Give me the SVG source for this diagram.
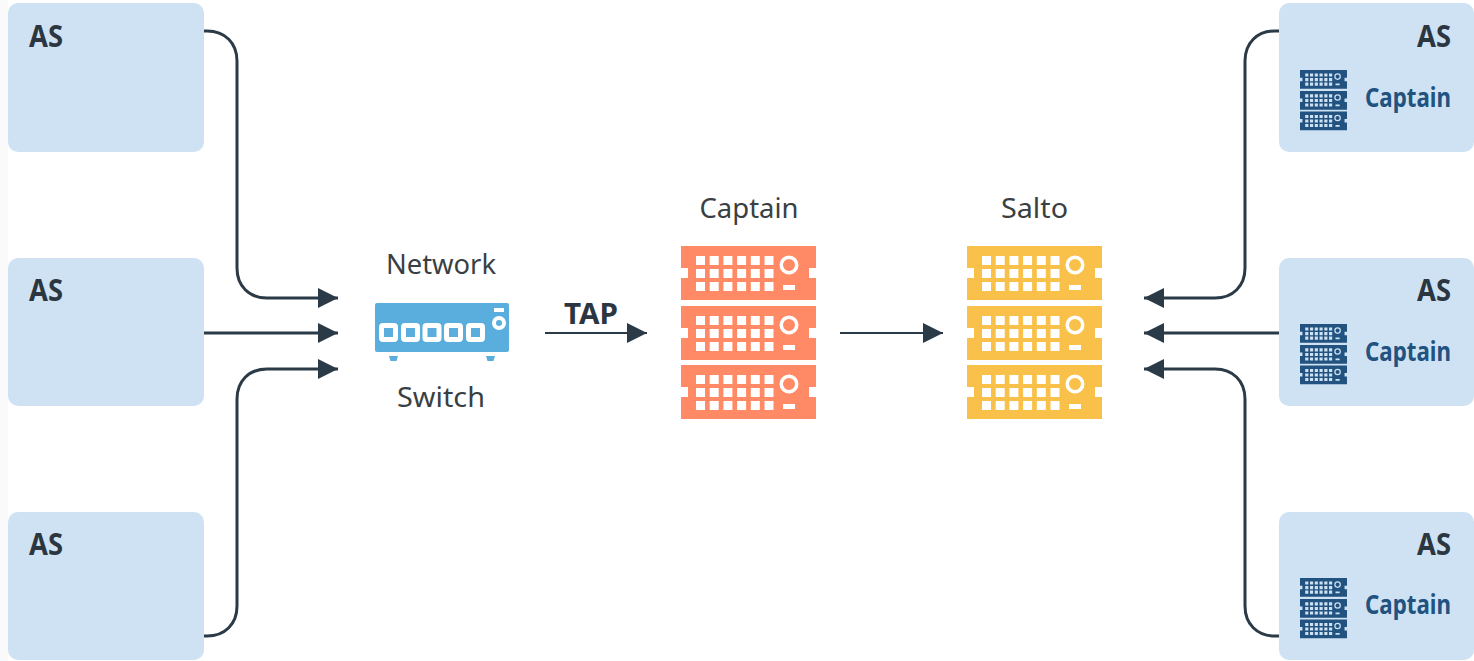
<svg xmlns="http://www.w3.org/2000/svg" width="1474" height="661" viewBox="0 0 1474 661">
<style>
text{font-family:"Noto Sans","Open Sans","Liberation Sans",sans-serif}
.as{fill:#cfe2f3}
.ast{font-size:30px;font-weight:700;fill:#2b3640}
.cap{font-size:26px;font-weight:700;fill:#22527f}
.lab{font-size:28px;fill:#3a3f44;text-anchor:middle}
.c{fill:none;stroke:#2b3a47;stroke-width:3}
.t{fill:none;stroke:#2b3a47;stroke-width:2}
</style>
<defs>
<marker id="a" markerUnits="userSpaceOnUse" markerWidth="21" markerHeight="21" refX="20" refY="10" orient="auto"><path d="M0 0L20 10L0 20Z" fill="#2b3a47"/></marker>
<path id="srv" fill-rule="evenodd" d="M0 0H135V22H128V32H135V54H0V32H7V22H0Z
M15 10h9v9h-9z M28.700 10h9v9h-9z M42.400 10h9v9h-9z M56.100 10h9v9h-9z M69.800 10h9v9h-9z M83.500 10h9v9h-9z
M15 23h9v9h-9z M28.700 23h9v9h-9z M42.400 23h9v9h-9z M56.100 23h9v9h-9z M69.800 23h9v9h-9z M83.500 23h9v9h-9z
M15 36h9v9h-9z M28.700 36h9v9h-9z M42.400 36h9v9h-9z M56.100 36h9v9h-9z M69.800 36h9v9h-9z M83.500 36h9v9h-9z
M98.500 19a9.500 9.500 0 1 0 19 0a9.500 9.500 0 1 0 -19 0z M102 19a6 6 0 1 0 12 0a6 6 0 1 0 -12 0z
M102 39h12v5h-12z"/>
<g id="rack"><use href="#srv"/><use href="#srv" y="60"/><use href="#srv" y="119"/></g>
<g id="mini" fill="#22527f"><use href="#rack" transform="scale(.348)"/></g>
</defs>
<rect width="1474" height="661" fill="#fff"/>
<rect width="8" height="661" fill="#fafafa"/>
<g id="connectors">
<path class="c" marker-end="url(#a)" d="M204 31H207C225 31 237 43 237 61V268C237 286 249 298 267 298H338"/>
<path class="c" marker-end="url(#a)" d="M204 333H338"/>
<path class="c" marker-end="url(#a)" d="M204 636H207C225 636 237 624 237 606V399C237 381 249 369 267 369H338"/>
<path class="c" marker-end="url(#a)" d="M1279 31H1275C1257 31 1245 43 1245 61V268C1245 286 1233 298 1215 298H1144"/>
<path class="c" marker-end="url(#a)" d="M1279 333H1144"/>
<path class="c" marker-end="url(#a)" d="M1279 636H1275C1257 636 1245 624 1245 606V399C1245 381 1233 369 1215 369H1144"/>
<path class="t" marker-end="url(#a)" d="M545 333H647"/>
<path class="t" marker-end="url(#a)" d="M840 333H943"/>
</g>
<g id="as-l1"><rect class="as" x="8" y="3" width="196" height="149" rx="10"/><text class="ast" x="29" y="46.500" textLength="34" lengthAdjust="spacingAndGlyphs">AS</text></g>
<g id="as-l2"><rect class="as" x="8" y="258" width="196" height="148" rx="10"/><text class="ast" x="29" y="300.500" textLength="34" lengthAdjust="spacingAndGlyphs">AS</text></g>
<g id="as-l3"><rect class="as" x="8" y="512" width="196" height="148" rx="10"/><text class="ast" x="29" y="554.500" textLength="34" lengthAdjust="spacingAndGlyphs">AS</text></g>
<g id="as-r1"><rect class="as" x="1279" y="3" width="195" height="149" rx="10"/><text class="ast" x="1417" y="46.500" textLength="34" lengthAdjust="spacingAndGlyphs">AS</text><use href="#mini" x="1300" y="70"/><text class="cap" x="1365" y="107" textLength="86" lengthAdjust="spacingAndGlyphs">Captain</text></g>
<g id="as-r2"><rect class="as" x="1279" y="258" width="195" height="148" rx="10"/><text class="ast" x="1417" y="300.500" textLength="34" lengthAdjust="spacingAndGlyphs">AS</text><use href="#mini" x="1300" y="324"/><text class="cap" x="1365" y="361" textLength="86" lengthAdjust="spacingAndGlyphs">Captain</text></g>
<g id="as-r3"><rect class="as" x="1279" y="512" width="195" height="148" rx="10"/><text class="ast" x="1417" y="554.500" textLength="34" lengthAdjust="spacingAndGlyphs">AS</text><use href="#mini" x="1300" y="578"/><text class="cap" x="1365" y="614" textLength="86" lengthAdjust="spacingAndGlyphs">Captain</text></g>
<g id="switch">
<text class="lab" x="441" y="274" textLength="110" lengthAdjust="spacingAndGlyphs">Network</text>
<rect x="375" y="303" width="134" height="49" rx="2" fill="#5aaede"/>
<path fill="#5aaede" d="M389 356h9l-1.500 5h-6zM486 356h9l-1.500 5h-6z"/>
<rect x="494" y="308" width="10" height="4" fill="#fff"/>
<circle cx="499" cy="323" r="5" fill="none" stroke="#fff" stroke-width="4"/>
<g fill="#5aaede" stroke="#fff" stroke-width="5"><rect x="381.500" y="325.500" width="14" height="14" rx="1.500"/><rect x="403.500" y="325.500" width="14" height="14" rx="1.500"/><rect x="425" y="325.500" width="14" height="14" rx="1.500"/><rect x="446.500" y="325.500" width="14" height="14" rx="1.500"/><rect x="468.500" y="325.500" width="14" height="14" rx="1.500"/></g>
<text class="lab" x="441" y="407" textLength="88" lengthAdjust="spacingAndGlyphs">Switch</text>
</g>
<text id="tap" x="564" y="324" font-size="29" font-weight="700" fill="#2b3640" textLength="54" lengthAdjust="spacingAndGlyphs">TAP</text>
<g id="captain"><text class="lab" x="749" y="218" textLength="99" lengthAdjust="spacingAndGlyphs">Captain</text><use href="#rack" x="681" y="246" fill="#ff8a65"/></g>
<g id="salto"><text class="lab" x="1034.500" y="218" textLength="67" lengthAdjust="spacingAndGlyphs">Salto</text><use href="#rack" x="967" y="246" fill="#f9c04a"/></g>
</svg>
